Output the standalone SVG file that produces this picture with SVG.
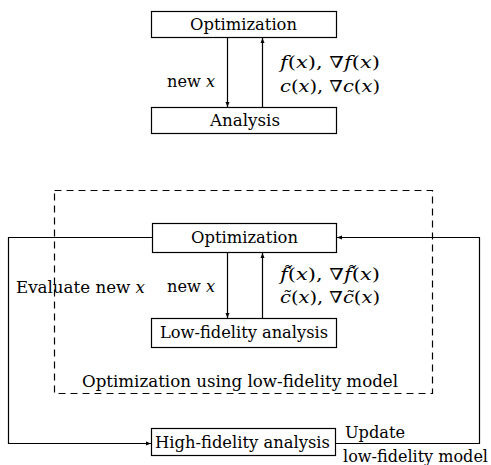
<svg xmlns="http://www.w3.org/2000/svg" width="491" height="465" viewBox="0 0 491 465">
<style>
.box{fill:#fff;stroke:#000;stroke-width:1.2}
.ln{fill:none;stroke:#000;stroke-width:1.2}
.dash{fill:none;stroke:#000;stroke-width:1.2;stroke-dasharray:7 5}
text{font-family:'DejaVu Serif','Liberation Serif',serif;font-size:16px;fill:#000}
.m{font-style:italic}
</style>
<defs>
<marker id="ah" viewBox="0 0 10 10" refX="10" refY="5" markerWidth="5" markerHeight="5" orient="auto" markerUnits="userSpaceOnUse">
<path d="M0,1 L10,5 L0,9 z" fill="#000"/>
</marker>
</defs>
<g id="connectors">
<line class="ln" x1="227.5" y1="37.5" x2="227.5" y2="107" marker-end="url(#ah)"/>
<line class="ln" x1="262.5" y1="107.5" x2="262.5" y2="38" marker-end="url(#ah)"/>
<line class="ln" x1="227.5" y1="252.5" x2="227.5" y2="318" marker-end="url(#ah)"/>
<line class="ln" x1="262.5" y1="318.5" x2="262.5" y2="253" marker-end="url(#ah)"/>
<path class="ln" d="M152.5,237.5 H8.5 V443.5 H151" marker-end="url(#ah)"/>
<path class="ln" d="M335.5,443.5 H479.5 V237.5 H337" marker-end="url(#ah)"/>
</g>
<g id="dashed-group">
<rect class="dash" x="54.5" y="190.5" width="378" height="203"/>
<text x="82" y="387" textLength="316" lengthAdjust="spacingAndGlyphs">Optimization using low-fidelity model</text>
</g>
<g id="opt1">
<rect class="box" x="151.5" y="11.5" width="185" height="26"/>
<text x="190" y="30" textLength="107" lengthAdjust="spacingAndGlyphs">Optimization</text>
</g>
<g id="analysis">
<rect class="box" x="151.5" y="107.5" width="185" height="26"/>
<text x="210" y="126" textLength="70" lengthAdjust="spacingAndGlyphs">Analysis</text>
</g>
<g id="labels-top">
<text x="167" y="87" textLength="48" lengthAdjust="spacingAndGlyphs">new <tspan class="m">x</tspan></text>
<text x="280" y="68" textLength="100" lengthAdjust="spacingAndGlyphs"><tspan class="m">f</tspan>(<tspan class="m">x</tspan>), ∇<tspan class="m">f</tspan>(<tspan class="m">x</tspan>)</text>
<text x="280" y="92" textLength="100" lengthAdjust="spacingAndGlyphs"><tspan class="m">c</tspan>(<tspan class="m">x</tspan>), ∇<tspan class="m">c</tspan>(<tspan class="m">x</tspan>)</text>
</g>
<g id="opt2">
<rect class="box" x="152.5" y="223.5" width="184" height="29"/>
<text x="191" y="243" textLength="107" lengthAdjust="spacingAndGlyphs">Optimization</text>
</g>
<g id="lowfid">
<rect class="box" x="151.5" y="318.5" width="185" height="29"/>
<text x="160" y="338" textLength="168" lengthAdjust="spacingAndGlyphs">Low-fidelity analysis</text>
</g>
<g id="highfid">
<rect class="box" x="151.5" y="428.5" width="184" height="27"/>
<text x="155" y="448" textLength="175" lengthAdjust="spacingAndGlyphs">High-fidelity analysis</text>
</g>
<g id="labels-bottom">
<text x="16" y="293" textLength="129" lengthAdjust="spacingAndGlyphs">Evaluate new <tspan class="m">x</tspan></text>
<text x="167" y="292" textLength="48" lengthAdjust="spacingAndGlyphs">new <tspan class="m">x</tspan></text>
<text x="280" y="280" textLength="100" lengthAdjust="spacingAndGlyphs"><tspan class="m">f̃</tspan>(<tspan class="m">x</tspan>), ∇<tspan class="m">f̃</tspan>(<tspan class="m">x</tspan>)</text>
<text x="280" y="303" textLength="100" lengthAdjust="spacingAndGlyphs"><tspan class="m">c̃</tspan>(<tspan class="m">x</tspan>), ∇<tspan class="m">c̃</tspan>(<tspan class="m">x</tspan>)</text>
<text x="345" y="438" textLength="60" lengthAdjust="spacingAndGlyphs">Update</text>
<text x="343" y="462" textLength="145" lengthAdjust="spacingAndGlyphs">low-fidelity model</text>
</g>
</svg>
